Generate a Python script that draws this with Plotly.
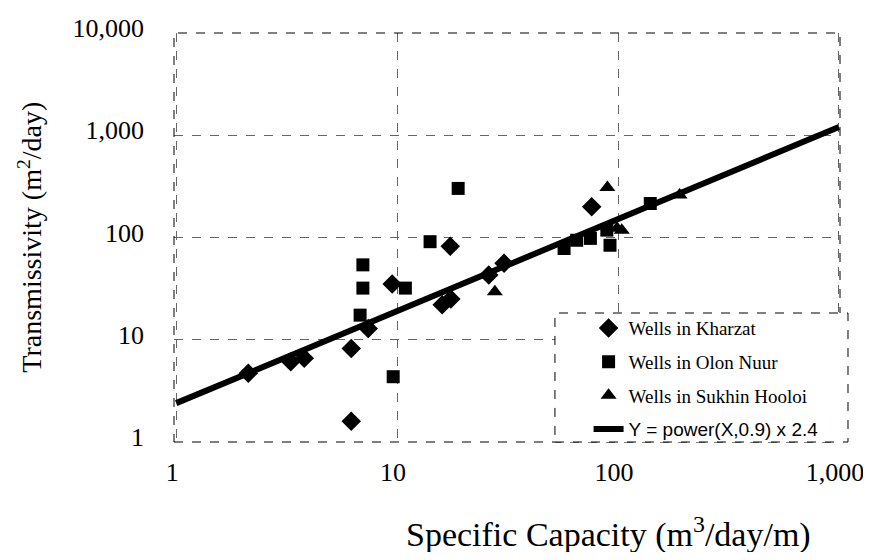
import plotly.graph_objects as go

# ---- data ----
kharzat_x = [2.12, 3.3, 3.8, 6.2, 6.2, 7.4, 9.5, 16.0, 17.5, 17.4, 26.0, 30.5, 76.0]
kharzat_y = [4.7, 6.1, 6.6, 8.2, 1.6, 12.9, 35.0, 22.0, 25.0, 82.0, 43.0, 56.0, 200.0]

olon_x = [6.8, 7.0, 7.0, 9.6, 10.9, 14.1, 18.9, 57.0, 65.0, 75.0, 89.0, 92.0, 140.0]
olon_y = [17.4, 32.0, 54.0, 4.35, 32.0, 91.0, 302.0, 78.0, 94.0, 98.0, 118.0, 84.0, 215.0]

sukhin_x = [27.7, 89.5, 99.0, 104.0, 190.0]
sukhin_y = [29.5, 309.0, 123.0, 118.0, 260.0]

fit_x = [1, 1000]
fit_y = [2.4, 1202]

x_ticks = [1, 10, 100, 1000]
x_tick_labels = ["1", "10", "100", "1,000"]
y_ticks = [1, 10, 100, 1000, 10000]
y_tick_labels = ["1", "10", "100", "1,000", "10,000"]

SERIF = "Liberation Serif"

fig = go.Figure()
fig.add_trace(go.Scatter(x=kharzat_x, y=kharzat_y, mode="markers", name="Wells in Kharzat",
                         legendgroup="a",
                         marker=dict(symbol="diamond", size=15, color="black")))
fig.add_trace(go.Scatter(x=olon_x, y=olon_y, mode="markers", name="Wells in Olon Nuur",
                         legendgroup="b",
                         marker=dict(symbol="square", size=13, color="black")))
fig.add_trace(go.Scatter(x=sukhin_x, y=sukhin_y, mode="markers", name="Wells in Sukhin Hooloi",
                         legendgroup="c",
                         marker=dict(symbol="triangle-up", size=14, color="black")))
fig.add_trace(go.Scatter(x=fit_x, y=fit_y, mode="lines",
                         name='<span style="font-family:Liberation Sans">Y = power(X,0.9) x 2.4</span>',
                         legendgroup="d",
                         line=dict(color="black", width=6)))

axis_common = dict(type="log", showline=False, zeroline=False, ticks="", automargin=False,
                   gridcolor="#666", gridwidth=1, griddash="dash", ticklabeloverflow="allow",
                   tickfont=dict(family=SERIF, size=26, color="black"))

fig.update_layout(
    width=855, height=544,
    margin=dict(l=166, r=23, t=25, b=110),
    paper_bgcolor="white", plot_bgcolor="white",
    font=dict(family=SERIF, color="black"),
    xaxis=dict(range=[-0.01, 3.005], tickvals=x_ticks, ticktext=x_tick_labels,
               ticklabelstandoff=12, ticklabelshift=-4, **axis_common),
    yaxis=dict(range=[0, 4], tickvals=y_ticks, ticktext=y_tick_labels,
               ticklabelstandoff=29, ticklabelshift=-5, **axis_common),
    showlegend=True,
    legend=dict(x=0.6225, y=0.325, xanchor="left", yanchor="top",
                bgcolor="rgba(0,0,0,0)", borderwidth=0,
                font=dict(family=SERIF, size=19, color="black"),
                traceorder="grouped", tracegroupgap=6),
    shapes=[
        dict(type="rect", xref="paper", yref="paper", x0=0, x1=1, y0=0, y1=1,
             line=dict(color="black", width=1, dash="dash"), layer="above"),
        dict(type="rect", xref="paper", yref="paper", x0=0.572, x1=1.012, y0=0, y1=0.3154,
             fillcolor="white", line=dict(color="black", width=1, dash="dash"), layer="above"),
    ],
    annotations=[
        dict(text="Specific Capacity (m<sup>3</sup>/day/m)", xref="paper", yref="paper",
             x=0.652, y=-0.222, showarrow=False, xanchor="center", yanchor="middle",
             font=dict(family=SERIF, size=34, color="black")),
        dict(text="Transmissivity (m<sup>2</sup>/day)", xref="paper", yref="paper",
             x=-0.216, y=0.5, showarrow=False, xanchor="center", yanchor="middle",
             textangle=-90, font=dict(family=SERIF, size=28, color="black")),
    ],
)

fig.write_html("out.html")
